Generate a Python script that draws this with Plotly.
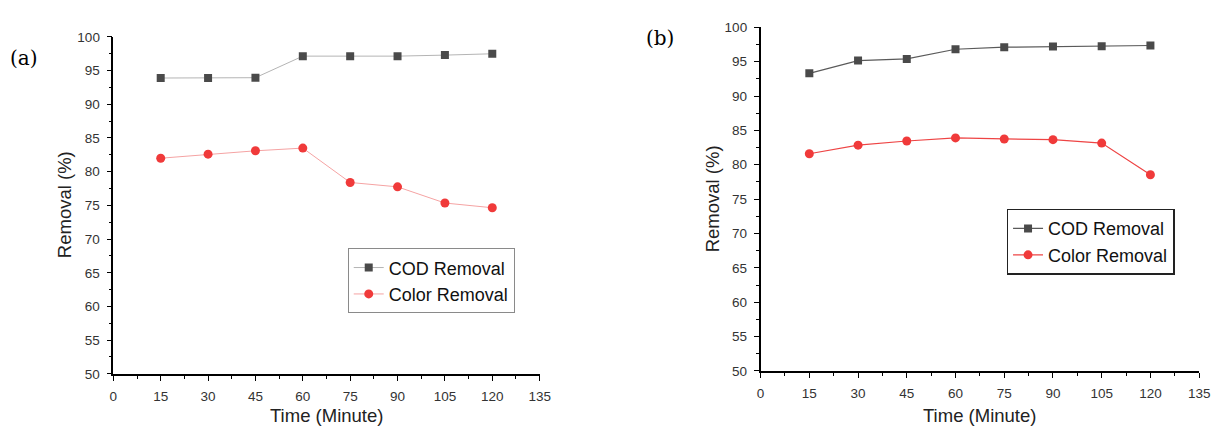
import plotly.graph_objects as go

time = [15, 30, 45, 60, 75, 90, 105, 120]
cod_a = [93.9, 93.9, 93.95, 97.15, 97.15, 97.15, 97.3, 97.5]
color_a = [82.0, 82.6, 83.1, 83.5, 78.4, 77.75, 75.35, 74.65]
cod_b = [93.3, 95.15, 95.4, 96.8, 97.1, 97.2, 97.25, 97.35]
color_b = [81.6, 82.85, 83.45, 83.9, 83.75, 83.65, 83.15, 78.55]

x_ticks = [0, 15, 30, 45, 60, 75, 90, 105, 120, 135]
y_ticks = [50, 55, 60, 65, 70, 75, 80, 85, 90, 95, 100]

W, H = 1222, 433
fig = go.Figure()

# panel (a)
fig.add_trace(go.Scatter(x=time, y=cod_a, name="COD Removal", mode="lines+markers",
                         line=dict(color="#b4b4b4", width=1),
                         marker=dict(symbol="square", size=8, color="#4a4a4a"),
                         xaxis="x", yaxis="y", legend="legend"))
fig.add_trace(go.Scatter(x=time, y=color_a, name="Color Removal", mode="lines+markers",
                         line=dict(color="#f5a3a3", width=1),
                         marker=dict(symbol="circle", size=9, color="#f03a3a"),
                         xaxis="x", yaxis="y", legend="legend"))
# panel (b)
fig.add_trace(go.Scatter(x=time, y=cod_b, name="COD Removal", mode="lines+markers",
                         line=dict(color="#5a5a5a", width=1.2),
                         marker=dict(symbol="square", size=8, color="#4a4a4a"),
                         xaxis="x2", yaxis="y2", legend="legend2"))
fig.add_trace(go.Scatter(x=time, y=color_b, name="Color Removal", mode="lines+markers",
                         line=dict(color="#ee4444", width=1.2),
                         marker=dict(symbol="circle", size=9, color="#f03a3a"),
                         xaxis="x2", yaxis="y2", legend="legend2"))

def px_x(p):
    return p / W

def px_y(p):
    return 1 - p / H

tickfont = dict(family="Arial, Liberation Sans, sans-serif", size=13.5, color="#333333")

def xaxis(domain, anchor):
    return dict(domain=domain, anchor=anchor, range=[0, 135], tickvals=x_ticks,
                showgrid=False, zeroline=False, showline=True, linecolor="#000000", linewidth=1.5,
                ticks="outside", ticklen=5, tickwidth=1.2, tickcolor="#000000",
                ticklabelstandoff=4,
                minor=dict(ticks="outside", ticklen=3, dtick=7.5, tick0=0, tickcolor="#000000", tickwidth=1),
                tickfont=tickfont)

def yaxis(domain, anchor):
    return dict(domain=domain, anchor=anchor, range=[50, 100], tickvals=y_ticks,
                showgrid=False, zeroline=False, showline=True, linecolor="#000000", linewidth=1.5,
                ticks="outside", ticklen=5, tickwidth=1.2, tickcolor="#000000",
                ticklabelstandoff=4,
                minor=dict(ticks="outside", ticklen=3, dtick=2.5, tick0=50, tickcolor="#000000", tickwidth=1),
                tickfont=tickfont)

legfont = dict(family="Arial, Liberation Sans, sans-serif", size=18, color="#111111")

fig.update_layout(
    width=W, height=H,
    margin=dict(l=0, r=0, t=0, b=0),
    paper_bgcolor="white", plot_bgcolor="white",
    xaxis=xaxis([px_x(110.7), px_x(542.3)], "y"),
    yaxis=yaxis([px_y(380), px_y(31)], "x"),
    xaxis2=xaxis([px_x(766), px_x(1210)], "y2"),
    yaxis2=yaxis([px_y(377), px_y(21)], "x2"),
    legend=dict(x=px_x(348), y=px_y(250), xanchor="left", yanchor="top",
                bgcolor="white", bordercolor="#8a8a8a", borderwidth=1,
                font=legfont, tracegroupgap=0, itemwidth=30),
    legend2=dict(x=px_x(1015), y=px_y(209), xanchor="left", yanchor="top",
                 bgcolor="white", bordercolor="#222222", borderwidth=1.5,
                 font=legfont, tracegroupgap=0, itemwidth=30),
    showlegend=True,
)

axtitle = dict(family="Arial, Liberation Sans, sans-serif", size=18.5, color="#222222")
serif = dict(family="DejaVu Serif, Liberation Serif, serif", size=20, color="#000000")

ann = [
    dict(text="Time (Minute)", x=px_x(327), y=px_y(423), font=axtitle),
    dict(text="Time (Minute)", x=px_x(988), y=px_y(423), font=axtitle),
    dict(text="Removal (%)", x=px_x(62), y=px_y(205), font=axtitle, textangle=-90),
    dict(text="Removal (%)", x=px_x(717), y=px_y(199), font=axtitle, textangle=-90),
    dict(text="(a)", x=px_x(20), y=px_y(53), font=serif),
    dict(text="(b)", x=px_x(664), y=px_y(32), font=serif),
]
for a in ann:
    fig.add_annotation(xref="paper", yref="paper", showarrow=False,
                       xanchor="center", yanchor="middle", **a)

fig.write_html("out.html")
